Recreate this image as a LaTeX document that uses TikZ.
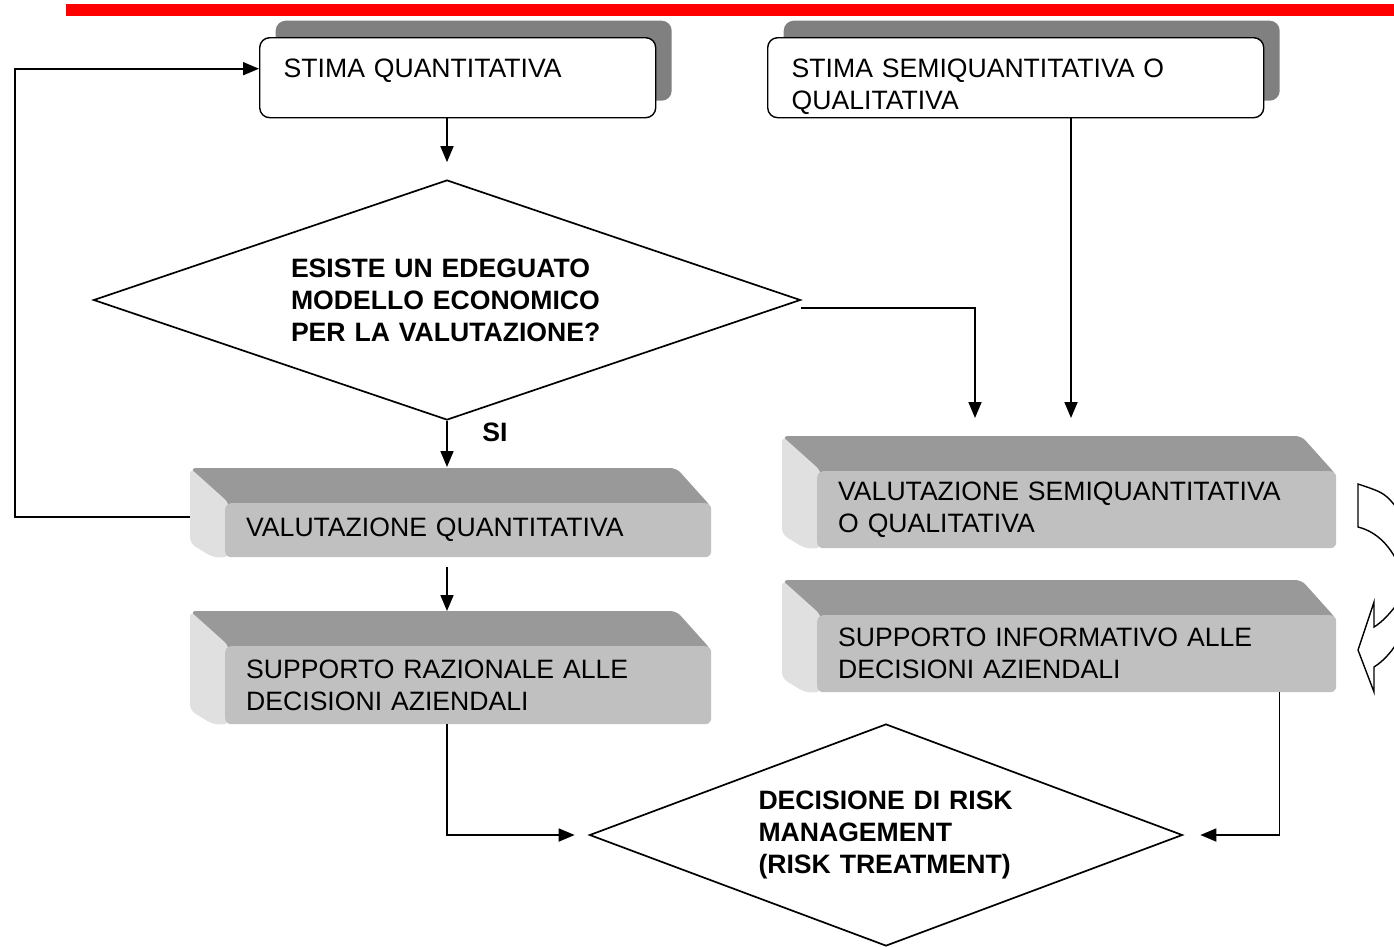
\documentclass[tikz,border=0pt]{standalone}
\usepackage{fontspec}
\setmainfont{Liberation Sans}
\usetikzlibrary{positioning, arrows.meta, shapes.geometric, shadows, calc, backgrounds}
\definecolor{rsred}{RGB}{255, 0, 0}
\definecolor{rsshadow}{RGB}{128, 128, 128}
\definecolor{rstop}{RGB}{153, 153, 153}
\definecolor{rsface}{RGB}{192, 192, 192}
\definecolor{rsside}{RGB}{224, 224, 224}
\newcommand{\boxfont}{\fontsize{26.6}{32}\selectfont}
% top and left faces behind a front face node
\newcommand{\bevelfaces}[1]{%
  \fill[rstop, rounded corners=6pt] ($(#1.north west)+(-35,-35)$) -- ($(#1.north east)+(-35,-35)$)
    -- ($(#1.north east)+(0,4)$) -- ($(#1.north west)+(0,4)$) -- cycle;
  \fill[rsside, rounded corners=6pt] ($(#1.north west)+(-35,-35)$) -- ($(#1.north west)+(4,0)$)
    -- ($(#1.south west)+(4,0)$) -- ($(#1.south west)+(-12,0)$) -- ($(#1.south west)+(-35,-14)$) -- cycle;
}

\begin{document}
\begin{tikzpicture}[
    x=1pt, y=-1pt,
    wbox/.style={rectangle, draw, line width=1.4pt, rounded corners=10pt, fill=white,
                 anchor=north west, inner xsep=24pt, inner ysep=0pt, align=left,
                 text height=40pt, text depth=40pt, font=\boxfont,
                 general shadow={shadow xshift=16pt, shadow yshift=17pt, fill=rsshadow}},
    face/.style={rectangle, rounded corners=6pt, fill=rsface, anchor=north west,
                 inner xsep=21pt, inner ysep=0pt, align=left, font=\boxfont},
    dia/.style={diamond, draw, line width=1.7pt, fill=white, inner sep=0pt,
                align=left, font=\boxfont\bfseries},
    arrow/.style={-{Triangle[length=16pt, width=13pt]}, line width=1.7pt}
  ]
  \useasboundingbox (0,0) rectangle (1394,946);
  \fill[rsred] (66,4) rectangle (1394,16);

  % stime
  \node[wbox, text width=348pt] (sq) at (259,37) {STIMA QUANTITATIVA};
  \node[wbox, text width=448pt] (ss) at (767,37) {STIMA SEMIQUANTITATIVA O\\QUALITATIVA};

  \node[dia, aspect=3, minimum width=707pt, minimum height=240pt, text width=312pt] (d1) at (447,300)
    {ESISTE UN EDEGUATO\\MODELLO ECONOMICO\\PER LA VALUTAZIONE?};
  \node[font=\boxfont\bfseries] (yes) at (495,432) {SI};

  % valutazioni
  \node[face, text width=444pt, minimum height=54pt] (vq) at (225,503) {VALUTAZIONE QUANTITATIVA};
  \node[face, text width=444pt, minimum height=78pt] (sr) at (225,646) {SUPPORTO RAZIONALE ALLE\\DECISIONI AZIENDALI};
  \node[face, text width=477pt, minimum height=77pt] (vs) at (817,471) {VALUTAZIONE SEMIQUANTITATIVA\\O QUALITATIVA};
  \node[face, text width=477pt, minimum height=77pt] (sinf) at (817,615) {SUPPORTO INFORMATIVO ALLE\\DECISIONI AZIENDALI};
  \begin{scope}[on background layer]
    \bevelfaces{vq}
    \bevelfaces{sr}
    \bevelfaces{vs}
    \bevelfaces{sinf}
  \end{scope}

  \node[dia, aspect=2.67, minimum width=593pt, minimum height=222pt, text width=255pt] (dec) at (886,835)
    {DECISIONE DI RISK\\MANAGEMENT\\(RISK TREATMENT)};

  \coordinate (vs in1) at (975,418);
  \coordinate (vs in2) at (1071,418);

  \draw[arrow, shorten >=17pt] (sq.south -| d1.north) -- (d1.north);
  \draw[arrow] ([yshift=-8pt]d1.east) -| (vs in1);
  \draw[arrow] (ss.south -| vs in2) -- (vs in2);
  \draw[arrow, shorten >=36pt] (d1.south) -- (d1.south |- vq.north);
  \draw[arrow] ($(vq.west)+(-35,-13)$) -- ++(-175,0) |- ([yshift=9pt]sq.west);
  \draw[arrow, shorten <=10pt, shorten >=35pt] (vq.south -| d1.south) -- (sr.north -| d1.south);
  \draw[arrow, shorten >=14pt] (sr.south -| d1.south) |- (dec.west);
  \draw[arrow, shorten >=17pt] ($(sinf.south east)+(-57,0)$) |- (dec.east);

  % curved arrow at the right edge
  \begin{scope}
    \clip (0,0) rectangle (1394,946);
    \draw[line width=1.4pt, fill=white] (1400,512) .. controls (1385,493) .. (1358,484) -- (1358,527)
      .. controls (1378,532) and (1392,548) .. (1400,568);
    \draw[line width=1.4pt, fill=white] (1400,600) .. controls (1390,614) and (1382,622) .. (1374,627)
      -- (1374,602) -- (1358,650) -- (1374,692) -- (1374,667)
      .. controls (1385,660) and (1393,650) .. (1400,638);
  \end{scope}
\end{tikzpicture}
\end{document}
